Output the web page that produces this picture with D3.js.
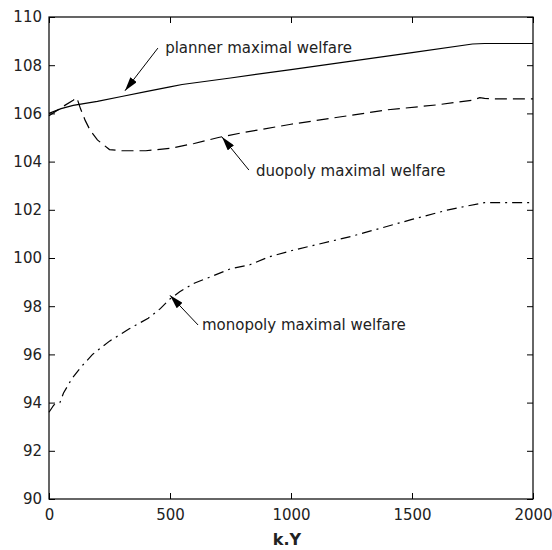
<!DOCTYPE html>
<html><head><meta charset="utf-8">
<script src="https://cdn.jsdelivr.net/npm/d3@7"></script>
<style>body{margin:0;background:#fff}</style>
</head><body>
<svg id="c" width="552" height="550"></svg>
<script>
// ---- data ----
const xTicks = [0, 500, 1000, 1500, 2000];
const yTicks = [90, 92, 94, 96, 98, 100, 102, 104, 106, 108, 110];
const plannerX = [0, 50, 100, 200, 300, 400, 500, 550, 750, 1000, 1250, 1500, 1750, 1800, 2000];
const plannerY = [106.0, 106.2, 106.33, 106.5, 106.7, 106.9, 107.1, 107.2, 107.47, 107.82, 108.17, 108.52, 108.88, 108.9, 108.9];
const duopolyX = [0, 30, 60, 100, 115, 130, 150, 170, 200, 250, 300, 400, 500, 600, 700, 800, 1000, 1200, 1400, 1600, 1750, 1780, 1800, 1850, 2000];
const duopolyY = [105.9, 106.1, 106.3, 106.55, 106.65, 106.2, 105.7, 105.3, 104.9, 104.5, 104.45, 104.45, 104.55, 104.75, 105.0, 105.2, 105.55, 105.85, 106.15, 106.35, 106.55, 106.65, 106.62, 106.6, 106.6];
const monopolyX = [0, 20, 45, 60, 95, 130, 180, 250, 330, 410, 460, 500, 540, 600, 750, 830, 910, 1000, 1250, 1500, 1650, 1800, 2000];
const monopolyY = [93.6, 93.9, 94.0, 94.4, 95.0, 95.45, 96.0, 96.55, 97.05, 97.5, 97.9, 98.3, 98.6, 98.95, 99.55, 99.72, 100.05, 100.3, 100.9, 101.6, 102.0, 102.3, 102.3];
const labels = ["planner maximal welfare", "duopoly maximal welfare", "monopoly maximal welfare"];
const labelX = [480, 855, 632];          // text start (data x)
const labelY = [108.51, 103.40, 97.01];  // text baseline (data y)
const tailX = [450, 826, 616];
const tailY = [108.71, 103.65, 97.22];
const tipX = [314, 715, 500];
const tipY = [106.94, 105.02, 98.45];
const xLabel = "k.Y";

// ---- chart ----
const svg = d3.select("#c");
const L = 49, R = 533, T = 17, B = 499;
const x = d3.scaleLinear().domain([0, 2000]).range([L, R]);
const y = d3.scaleLinear().domain([90, 110]).range([B, T]);
const font = "DejaVu Sans, sans-serif";

const defs = svg.append("defs");
defs.append("marker").attr("id", "ah").attr("viewBox", "0 0 14 8")
  .attr("refX", 14).attr("refY", 4).attr("markerWidth", 14).attr("markerHeight", 8)
  .attr("markerUnits", "userSpaceOnUse").attr("orient", "auto")
  .append("path").attr("d", "M0,0 L14,4 L0,8 Z").attr("fill", "#000");

// axes box
svg.append("rect").attr("x", L).attr("y", T).attr("width", R - L).attr("height", B - T)
  .attr("fill", "none").attr("stroke", "#000").attr("stroke-width", 1.2);

const ax = d3.axisBottom(x).tickValues(xTicks).tickSize(-6).tickPadding(10).tickFormat(d3.format("d"));
const ay = d3.axisLeft(y).tickValues(yTicks).tickSize(-6).tickPadding(7).tickFormat(d3.format("d"));
const gx = svg.append("g").attr("transform", `translate(0,${B})`).call(ax);
const gy = svg.append("g").attr("transform", `translate(${L},0)`).call(ay);
const gx2 = svg.append("g").attr("transform", `translate(0,${T})`).call(d3.axisTop(x).tickValues(xTicks).tickSize(-6).tickFormat(""));
const gy2 = svg.append("g").attr("transform", `translate(${R},0)`).call(d3.axisRight(y).tickValues(yTicks).tickSize(-6).tickFormat(""));
[gx, gy, gx2, gy2].forEach(g => {
  g.select(".domain").remove();
  g.selectAll("line").attr("stroke", "#000");
  g.selectAll("text").attr("font-family", font).attr("font-size", 15).attr("fill", "#222");
});

const line = d3.line().x(d => x(d[0])).y(d => y(d[1]));
const series = [
  {xs: plannerX, ys: plannerY, dash: null},
  {xs: duopolyX, ys: duopolyY, dash: "12,6"},
  {xs: monopolyX, ys: monopolyY, dash: "10,5,2,5"}
];
series.forEach(s => {
  svg.append("path").datum(s.xs.map((v, i) => [v, s.ys[i]]))
    .attr("d", line).attr("fill", "none").attr("stroke", "#000").attr("stroke-width", 1.2)
    .attr("stroke-dasharray", s.dash);
});

labels.forEach((t, i) => {
  svg.append("line").attr("x1", x(tailX[i])).attr("y1", y(tailY[i]))
    .attr("x2", x(tipX[i])).attr("y2", y(tipY[i]))
    .attr("stroke", "#000").attr("stroke-width", 1).attr("marker-end", "url(#ah)");
  svg.append("text").attr("x", x(labelX[i])).attr("y", y(labelY[i]))
    .attr("font-family", font).attr("font-size", 15).attr("fill", "#222").text(t);
});

svg.append("text").attr("x", 287).attr("y", 545).attr("text-anchor", "middle")
  .attr("font-family", font).attr("font-size", 16).attr("font-weight", "bold").attr("fill", "#222").text(xLabel);
</script>
</body></html>
